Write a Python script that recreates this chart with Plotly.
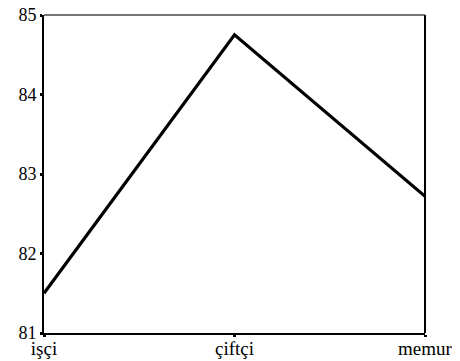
import plotly.graph_objects as go

categories = ["işçi", "çiftçi", "memur"]
values = [81.5, 84.75, 82.72]
y_ticks = [81, 82, 83, 84, 85]

fig = go.Figure()
fig.add_trace(go.Scatter(
    x=[0, 1, 2], y=values, mode="lines",
    line=dict(color="black", width=3.2),
    hoverinfo="skip", showlegend=False,
))

fig.update_xaxes(
    range=[0, 2], tickvals=[0, 1, 2], ticktext=categories,
    showgrid=False, zeroline=False, automargin=False,
    showline=True, linecolor="black", linewidth=2,
    ticks="outside", ticklen=2, tickwidth=3, tickcolor="black",
    ticklabeloverflow="allow", ticklabelstandoff=-5,
    tickfont=dict(family="Liberation Serif", size=19, color="black"),
)
fig.update_yaxes(
    range=[81, 85], tickvals=y_ticks,
    showgrid=False, zeroline=False, automargin=False,
    showline=True, linecolor="black", linewidth=2,
    ticks="outside", ticklen=2, tickwidth=3, tickcolor="black",
    ticklabeloverflow="allow",
    tickfont=dict(family="Liberation Serif", size=18, color="black"),
)
# top (grey) and right (black) frame edges
fig.add_shape(type="line", xref="paper", yref="paper", x0=0, x1=1, y0=1, y1=1,
              line=dict(color="#777777", width=2))
fig.add_shape(type="line", xref="paper", yref="paper", x0=1, x1=1, y0=0, y1=1,
              line=dict(color="black", width=2))

# page body has an 8px margin, so the figure is sized to fit the window
fig.update_layout(
    width=452, height=353,
    margin=dict(l=36, r=35, t=7, b=28),
    plot_bgcolor="white", paper_bgcolor="white",
)
fig.write_html("out.html")
